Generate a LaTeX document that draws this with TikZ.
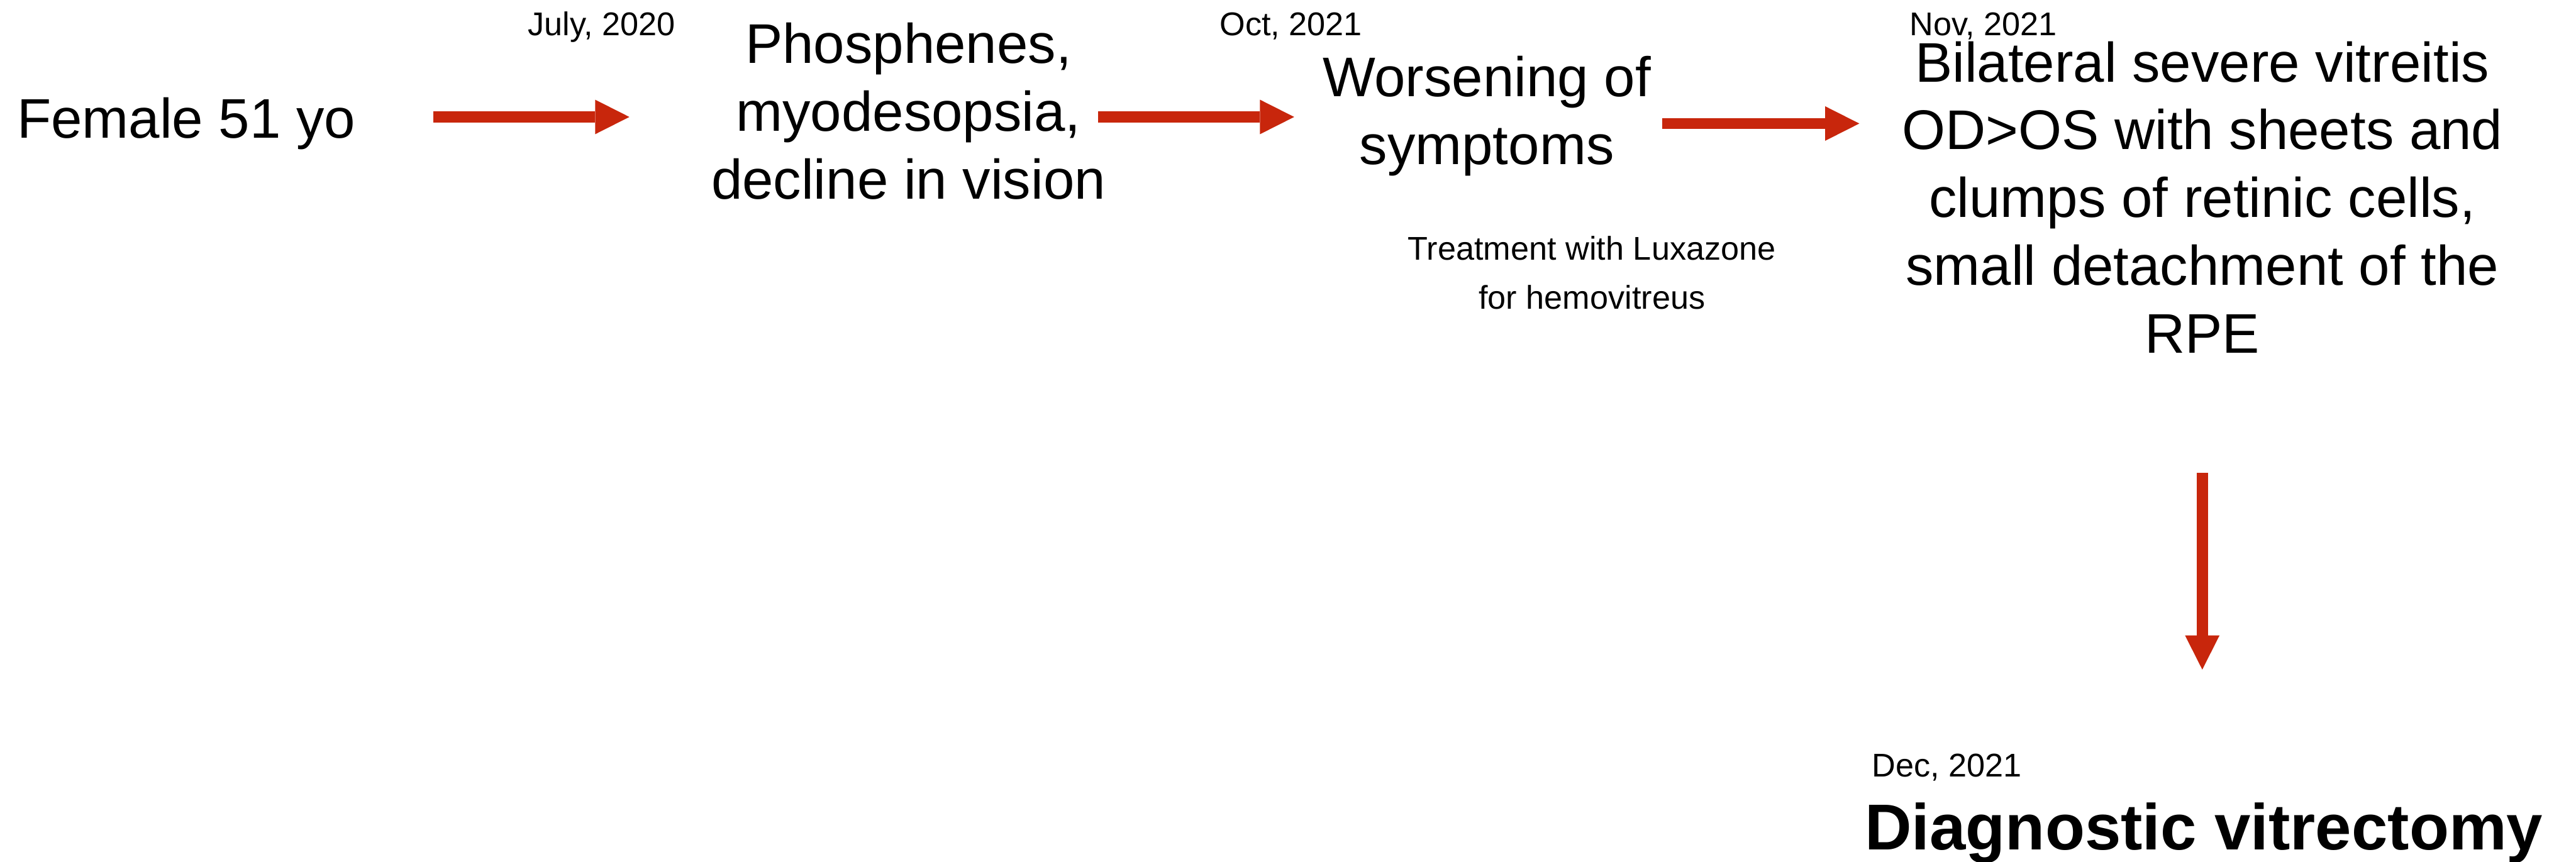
\documentclass[tikz,border=0pt]{standalone}
\usepackage{fontspec}
\setmainfont{Liberation Sans}
\usetikzlibrary{arrows.meta}

\definecolor{arrowred}{RGB}{200,38,12}

\newcommand*{\eventfont}{\fontsize{17pt}{20.65pt}\selectfont}
\newcommand*{\datefont}{\fontsize{10pt}{14.8pt}\selectfont}
\newcommand*{\finalfont}{\fontsize{19.75pt}{24pt}\selectfont\bfseries}

\begin{document}
\begin{tikzpicture}
[
	x=0.5pt, y=0.5pt,
	event/.style={inner sep=0pt, align=center, font=\eventfont},
	datelbl/.style={inner sep=0pt, anchor=base west, font=\datefont},
	redarrow/.style={draw=arrowred, line width=3.4pt, -{Triangle[length=10.4pt,width=10.5pt,line width=0pt]}}
]

	% page frame
	\useasboundingbox (0,0) rectangle (1568,-524.6);

	% events (base = last line)
	\node[event, anchor=base west] at (10,-84) (female) {Female 51 yo};
	\node[event, anchor=base] at (553,-121) (phos) {Phosphenes,\\myodesopsia,\\decline in vision};
	\node[event, anchor=base] at (905,-100) (worse) {Worsening of\\symptoms};
	\node[event, anchor=base] at (1340.5,-215) (bilat) {Bilateral severe vitreitis\\OD>OS with sheets and\\clumps of retinic cells,\\small detachment of the\\RPE};
	\node[inner sep=0pt, anchor=base, font=\finalfont] at (1341.5,-517.4) (diag) {Diagnostic vitrectomy};

	% treatment note
	\node[event, font=\datefont, anchor=base] at (969,-188) (treat) {Treatment with Luxazone\\for hemovitreus};

	% dates
	\node[datelbl] at (321,-21.6) (jul20) {July, 2020};
	\node[datelbl] at (742,-21.6) (oct21) {Oct, 2021};
	\node[datelbl] at (1162,-21.7) (nov21) {Nov, 2021};
	\node[datelbl] at (1139,-473) (dec21) {Dec, 2021};

	% arrows
	\draw[redarrow, shorten <=23.5pt, shorten >=24.75pt] ([yshift=2pt]female.east) -- ([yshift=2pt]female.east -| phos.west);
	\draw[redarrow, shorten <=-2.5pt, shorten >=8.5pt] ([yshift=2pt]female.east -| phos.east) -- ([yshift=2pt]female.east -| worse.west);
	\draw[redarrow, shorten <=3.3pt, shorten >=12.75pt] (female.east -| worse.east) -- (female.east -| bilat.west);
	%
	\draw[redarrow, shorten <=36.25pt, shorten >=40.35pt] (bilat.south) -- (bilat.south |- diag.north);

\end{tikzpicture}
\end{document}
